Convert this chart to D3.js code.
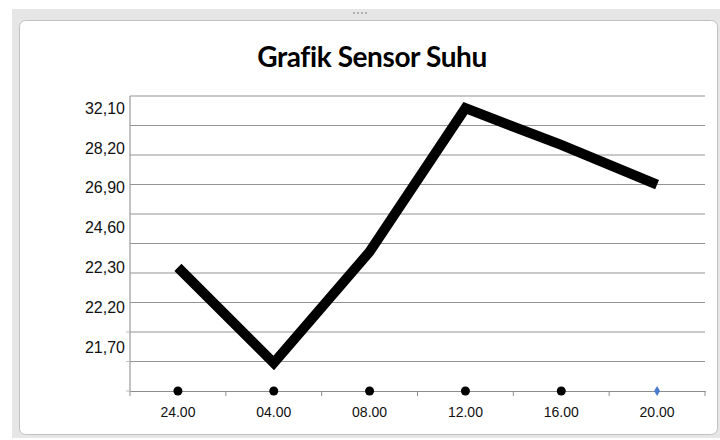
<!DOCTYPE html>
<html>
<head>
<meta charset="utf-8">
<script src="https://cdn.jsdelivr.net/npm/d3@7"></script>
<style>
  body { margin: 0; background: #fff; }
</style>
</head>
<body>
<div id="chart"></div>
<script>
// data
var jam = ["24.00", "04.00", "08.00", "12.00", "16.00", "20.00"];
var suhu = [22.3, 21.5, 23.2, 32.1, 28.5, 27.0];
// labels shown on the value axis
var yLabels = [21.70, 22.20, 22.30, 24.60, 26.90, 28.20, 32.10];
var gridCount = 10;

var W = 720, H = 440;
var plot = { left: 130, right: 705, top: 96, bottom: 391 };

var svg = d3.select("#chart")
  .append("svg")
  .attr("width", W)
  .attr("height", H);

// window frame
svg.append("rect")
  .attr("x", 12).attr("y", 9)
  .attr("width", W - 12).attr("height", 429)
  .attr("fill", "#e6e6e6");
svg.append("rect")
  .attr("x", 19.5).attr("y", 20.5)
  .attr("width", W - 22).attr("height", 414)
  .attr("rx", 6)
  .attr("fill", "#fff")
  .attr("stroke", "#c0c0c0");
// grip dots on the top bar
svg.append("g")
  .selectAll("rect")
  .data(d3.range(4))
  .enter()
  .append("rect")
  .attr("x", function(d) { return 353 + d * 4; })
  .attr("y", 12)
  .attr("width", 2).attr("height", 2)
  .attr("fill", "#b0b0b0");

// title
svg.append("text")
  .attr("x", 372)
  .attr("y", 67)
  .attr("text-anchor", "middle")
  .attr("font-family", "Lato, 'Open Sans', sans-serif")
  .attr("font-weight", "bold")
  .attr("font-size", 28)
  .attr("letter-spacing", -0.4)
  .attr("fill", "#000")
  .text("Grafik Sensor Suhu");

// X scale
var x = d3.scaleBand()
  .domain(jam)
  .range([plot.left, plot.right]);

// gridline scale (evenly spaced lines)
var g = d3.scaleLinear()
  .domain([0, gridCount])
  .range([plot.bottom, plot.top]);

// value scale: the axis labels are not spaced linearly, so use a polylinear scale
var ySteps = d3.range(yLabels.length).map(function(i) {
  return 347 - i * 39.8;
});
var y = d3.scaleLinear()
  .domain(yLabels)
  .range(ySteps);

// gridlines
svg.append("g")
  .selectAll("line")
  .data(d3.range(1, gridCount + 1))
  .enter()
  .append("line")
  .attr("x1", plot.left)
  .attr("x2", plot.right)
  .attr("y1", function(d) { return g(d); })
  .attr("y2", function(d) { return g(d); })
  .attr("stroke", "#949494")
  .attr("stroke-width", 1.2);

// left axis line
svg.append("line")
  .attr("x1", plot.left).attr("x2", plot.left)
  .attr("y1", plot.top).attr("y2", plot.bottom)
  .attr("stroke", "#9a9a9a")
  .attr("stroke-width", 1.2);

// small left ticks at the bottom gridlines
svg.append("g")
  .selectAll("line")
  .data([0, 1, 2])
  .enter()
  .append("line")
  .attr("x1", plot.left - 4)
  .attr("x2", plot.left)
  .attr("y1", function(d) { return g(d); })
  .attr("y2", function(d) { return g(d); })
  .attr("stroke", "#bbb");

// x axis
var xAxis = svg.append("g")
  .attr("transform", "translate(0," + plot.bottom + ")")
  .call(d3.axisBottom(x).tickSize(0).tickPadding(16));
xAxis.select(".domain").attr("stroke", "#8c8c8c").attr("stroke-width", 1.2);
xAxis.selectAll("text")
  .attr("font-family", "'Liberation Sans', Arial, sans-serif")
  .attr("font-size", 14)
  .attr("fill", "#111");

// band boundary ticks
svg.append("g")
  .selectAll("line")
  .data(jam.concat(["end"]))
  .enter()
  .append("line")
  .attr("x1", function(d, i) { return i < jam.length ? x(d) : x(jam[jam.length - 1]) + x.bandwidth(); })
  .attr("x2", function(d, i) { return i < jam.length ? x(d) : x(jam[jam.length - 1]) + x.bandwidth(); })
  .attr("y1", plot.bottom)
  .attr("y2", plot.bottom + 5)
  .attr("stroke", "#8c8c8c");

// y labels
svg.append("g")
  .selectAll("text")
  .data(yLabels)
  .enter()
  .append("text")
  .attr("x", plot.left - 5)
  .attr("y", function(d) { return y(d); })
  .attr("dy", "0.35em")
  .attr("text-anchor", "end")
  .attr("font-family", "'Liberation Sans', Arial, sans-serif")
  .attr("font-size", 16)
  .attr("fill", "#111")
  .text(function(d) { return d.toFixed(2).replace(".", ","); });

// markers sitting on the x axis
svg.append("g")
  .selectAll("path")
  .data(jam)
  .enter()
  .append("path")
  .attr("transform", function(d) {
    return "translate(" + (x(d) + x.bandwidth() / 2) + "," + plot.bottom + ")";
  })
  .attr("d", function(d, i) {
    return i == jam.length - 1
      ? d3.symbol().type(d3.symbolDiamond).size(30)()
      : d3.symbol().type(d3.symbolCircle).size(64)();
  })
  .attr("fill", function(d, i) { return i == jam.length - 1 ? "#4a7bd0" : "#000"; });

// temperature line
var line = d3.line()
  .x(function(d, i) { return x(jam[i]) + x.bandwidth() / 2; })
  .y(function(d) { return y(d); });

svg.append("path")
  .datum(suhu)
  .attr("d", line)
  .attr("fill", "none")
  .attr("stroke", "#000")
  .attr("stroke-width", 10)
  .attr("stroke-linejoin", "miter")
  .attr("stroke-linecap", "butt");
</script>
</body>
</html>
